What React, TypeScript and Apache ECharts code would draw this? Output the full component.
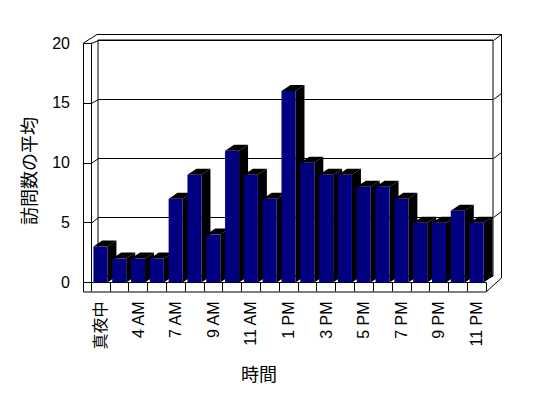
import React, { useEffect, useRef } from "react";
import * as echarts from "echarts";

const categories = [
  "真夜中", "1 AM", "4 AM", "6 AM", "7 AM", "8 AM", "9 AM", "10 AM", "11 AM", "正午",
  "1 PM", "2 PM", "3 PM", "4 PM", "5 PM", "6 PM", "7 PM", "8 PM", "9 PM", "10 PM", "11 PM",
];
const visits = [3, 2, 2, 2, 7, 9, 4, 11, 9, 7, 16, 10, 9, 9, 8, 8, 7, 5, 5, 6, 5];
const yTicks = [5, 10, 15, 20];
const yAxisTitle = "訪問数の平均";
const xAxisTitle = "時間";

const FONT = "'Liberation Sans', 'Noto Sans CJK JP', sans-serif";
const FACE = "#000080";
const SHADE = "#000000";

export default function App() {
  const ref = useRef<HTMLDivElement>(null);
  useEffect(() => {
    const chart = echarts.init(ref.current!, null, { renderer: "svg" });
    const dx = 9;
    const dy = -6;
    const option: any = {
      animation: false,
      backgroundColor: "#ffffff",
      grid: [
        { left: 91, right: 62, top: 43, bottom: 115.5 },
        { left: 98, right: 55, top: 40, bottom: 122, show: true, borderColor: "#000", borderWidth: 1, backgroundColor: "transparent" },
      ],
      xAxis: [
        {
          type: "category",
          gridIndex: 0,
          data: categories,
          boundaryGap: true,
          axisLine: { show: true, lineStyle: { color: "#000", width: 1 } },
          axisTick: { show: true, interval: 0, length: 9, lineStyle: { color: "#000", width: 1 } },
          axisLabel: { interval: 1, rotate: 90, margin: 19, color: "#000", fontSize: 16, fontFamily: FONT },
        },
        { type: "category", gridIndex: 1, data: categories, show: false },
      ],
      yAxis: [
        {
          type: "value",
          gridIndex: 0,
          min: 0,
          max: 20,
          interval: 5,
          axisLine: { show: true, lineStyle: { color: "#000", width: 1 } },
          axisTick: { show: true, length: 8, lineStyle: { color: "#000", width: 1 } },
          splitLine: { show: false },
          axisLabel: { margin: 21, color: "#000", fontSize: 16, fontFamily: FONT },
        },
        {
          type: "value",
          gridIndex: 1,
          min: 0,
          max: 20,
          interval: 5,
          axisLine: { show: false },
          axisTick: { show: false },
          axisLabel: { show: false },
          splitLine: { show: true, lineStyle: { color: "#000", width: 1 } },
        },
      ],
      series: [
        {
          type: "custom",
          xAxisIndex: 0,
          yAxisIndex: 0,
          z: 5,
          encode: { x: 0, y: 1 },
          data: visits.map((v, i) => [i, v]),
          renderItem: (params: any, api: any) => {
            const i = api.value(0);
            const v = api.value(1);
            const top = api.coord([i, v]);
            const base = api.coord([i, 0]);
            const bw = api.size([1, 0])[0];
            const w = bw * 0.745;
            const x0 = top[0] - w / 2;
            const x1 = x0 + w;
            const ty = top[1];
            const by = base[1];
            return {
              type: "group",
              children: [
                {
                  type: "polygon",
                  shape: { points: [[x1, ty], [x1 + dx, ty + dy], [x1 + dx, by + dy], [x1, by]] },
                  style: { fill: SHADE },
                },
                {
                  type: "polygon",
                  shape: { points: [[x0, ty], [x0 + dx, ty + dy], [x1 + dx, ty + dy], [x1, ty]] },
                  style: { fill: SHADE },
                },
                {
                  type: "rect",
                  shape: { x: x0, y: ty, width: w, height: by - ty },
                  style: { fill: FACE },
                },
              ],
            };
          },
        },
      ],
    };
    chart.setOption(option);

    const fy = (v: number) => chart.convertToPixel({ yAxisIndex: 0 } as any, v) as number;
    const by = (v: number) => chart.convertToPixel({ yAxisIndex: 1 } as any, v) as number;
    const fx0 = 91, bx0 = 98, bx1 = 493, ox = 83, orx = 501, otop = 34;
    const y0 = fy(0);
    const floorFront = y0 + 9;
    const floorRight = (chart.convertToPixel({ xAxisIndex: 0 } as any, categories.length - 1) as number) + 9.4;
    const ln = (x1: number, y1: number, x2: number, y2: number) => ({
      type: "line",
      silent: true,
      z: 10,
      shape: { x1, y1, x2, y2 },
      style: { stroke: "#000", lineWidth: 1 },
    });
    const s = 0.5;
    const graphics: any[] = [
      ln(ox + s, fy(20), ox + s, floorFront + s),
      ln(ox + s, floorFront + s, floorRight, floorFront + s),
      ln(ox + s, fy(20), 97, otop + s),
      ln(97, otop + s, orx + s, otop + s),
      ln(orx + s, otop + s, orx + s, 278),
      ln(orx + s, 278, floorRight, floorFront + s),
      ln(ox, fy(20) + s, fx0, fy(20) + s),
    ];
    yTicks.forEach((v) => {
      graphics.push(ln(fx0 + s, fy(v) + s, bx0 + s, by(v) + s));
      graphics.push(ln(bx1 + s, by(v) + s, orx + s, by(v) - 5.5));
    });
    graphics.push({
      type: "text",
      silent: true,
      x: 30,
      y: 171,
      rotation: Math.PI / 2,
      style: { text: yAxisTitle, fill: "#000", font: `18px ${FONT}`, align: "center", verticalAlign: "middle" },
    });
    graphics.push({
      type: "text",
      silent: true,
      x: 259,
      y: 375,
      style: { text: xAxisTitle, fill: "#000", font: `18px ${FONT}`, align: "center", verticalAlign: "middle" },
    });
    chart.setOption({ graphic: graphics });

    return () => chart.dispose();
  }, []);
  return (
    <div
      ref={ref}
      style={{ position: "fixed", left: 0, top: 0, width: 548, height: 398, background: "#fff" }}
    />
  );
}
